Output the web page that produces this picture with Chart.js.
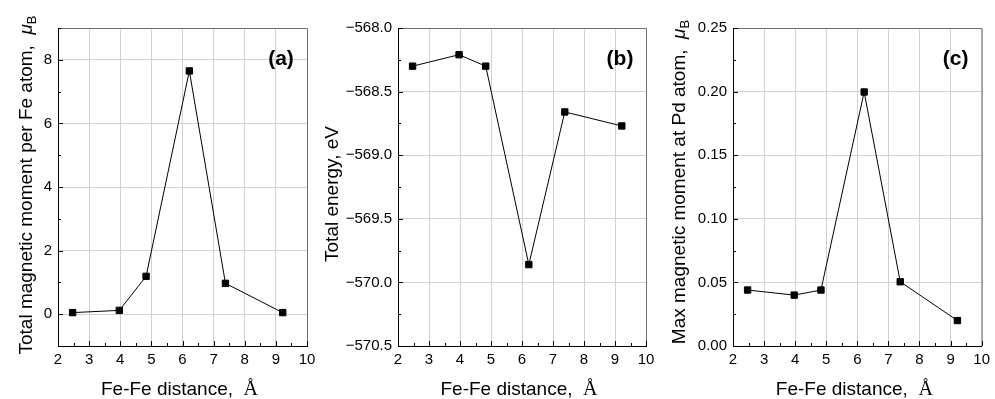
<!DOCTYPE html>
<html>
<head>
<meta charset="utf-8">
<script src="https://cdn.jsdelivr.net/npm/chart.js@4.4.0/dist/chart.umd.min.js"></script>
<style>
    html, body { margin: 0; padding: 0; background: #fff; }
    #wrap { position: relative; width: 995px; height: 399px; }
    #wrap canvas { position: absolute; left: 0; top: 0; }
</style>
</head>
<body>
<div id="wrap">
    <canvas id="chartA" width="995" height="399"></canvas>
    <canvas id="chartB" width="995" height="399"></canvas>
    <canvas id="chartC" width="995" height="399"></canvas>
</div>
<script>
// 数据：Fe-Fe 距离 (Å)
const distances = [2.47, 3.97, 4.83, 6.22, 7.38, 9.22];
// (a) 每个 Fe 原子的总磁矩, μB
const momentPerFe = [0.05, 0.12, 1.19, 7.65, 0.97, 0.05];
// (b) 总能量, eV
const totalEnergy = [-568.30, -568.21, -568.30, -569.86, -568.66, -568.77];
// (c) Pd 原子上的最大磁矩, μB
const maxMomentPd = [0.044, 0.040, 0.044, 0.1997, 0.0505, 0.020];

// 刻度
const xTicks = [2, 3, 4, 5, 6, 7, 8, 9, 10];
const yTicksA = [0, 2, 4, 6, 8];
const yTicksB = [-570.5, -570.0, -569.5, -569.0, -568.5, -568.0];
const yTicksC = [0, 0.05, 0.10, 0.15, 0.20, 0.25];

// 布局常量
const PLOT_TOP = 28;
const PLOT_BOTTOM = 346;
const FONT = '"Liberation Sans", Arial, sans-serif';
const GRID = '#d2d2d2';
const TITLE_SIZE = 19;

const fmtMinus = s => s.replace('-', '\u2212');

const panels = [
    {
        id: 'chartA', values: momentPerFe, yTicks: yTicksA,
        left: 58, right: 307, yMin: -1, yMax: 9, yMinor: 1,
        label: '(a)', yTitle: 'Total magnetic moment per Fe atom,  ', mu: true,
        titleX: 32, titleY: 185,
        fmt: v => String(v)
    },
    {
        id: 'chartB', values: totalEnergy, yTicks: yTicksB,
        left: 398, right: 646, yMin: -570.5, yMax: -568.0, yMinor: 0.25,
        label: '(b)', yTitle: 'Total energy, eV', mu: false,
        titleX: 338, titleY: 194,
        fmt: v => fmtMinus(v.toFixed(1))
    },
    {
        id: 'chartC', values: maxMomentPd, yTicks: yTicksC,
        left: 733, right: 982, yMin: 0, yMax: 0.25, yMinor: 0.025,
        label: '(c)', yTitle: 'Max magnetic moment at Pd atom,  ', mu: true,
        titleX: 685, titleY: 182,
        fmt: v => v.toFixed(2)
    }
];

/**
 * 画竖排的 y 轴标题（可带 μB 下标）
 */
function drawYTitle(ctx, p) {
    ctx.save();
    ctx.translate(p.titleX, p.titleY);
    ctx.rotate(-Math.PI / 2);
    ctx.fillStyle = '#000';
    ctx.textBaseline = 'alphabetic';
    ctx.textAlign = 'left';

    ctx.font = TITLE_SIZE + 'px ' + FONT;
    const wMain = ctx.measureText(p.yTitle).width;
    let wMu = 0, wB = 0;
    if (p.mu) {
        ctx.font = 'italic ' + TITLE_SIZE + 'px ' + FONT;
        wMu = ctx.measureText('\u03bc').width;
        ctx.font = '13px ' + FONT;
        wB = ctx.measureText('B').width;
    }
    let pos = -(wMain + wMu + wB) / 2;
    ctx.font = TITLE_SIZE + 'px ' + FONT;
    ctx.fillText(p.yTitle, pos, 0);
    pos += wMain;
    if (p.mu) {
        ctx.font = 'italic ' + TITLE_SIZE + 'px ' + FONT;
        ctx.fillText('\u03bc', pos, 0);
        pos += wMu;
        ctx.font = '13px ' + FONT;
        ctx.fillText('B', pos, 4);
    }
    ctx.restore();
}

/**
 * 画 x 轴标题，Å 用衬线字体
 */
function drawXTitle(ctx, cx, baseline) {
    const main = 'Fe-Fe distance,  ';
    const serif = (TITLE_SIZE + 1) + 'px "Liberation Serif", "DejaVu Serif", serif';
    ctx.save();
    ctx.fillStyle = '#000';
    ctx.textBaseline = 'alphabetic';
    ctx.textAlign = 'left';
    ctx.font = TITLE_SIZE + 'px ' + FONT;
    const w1 = ctx.measureText(main).width;
    ctx.font = serif;
    const w2 = ctx.measureText('\u00c5').width;
    const start = cx - (w1 + w2) / 2;
    ctx.font = TITLE_SIZE + 'px ' + FONT;
    ctx.fillText(main, start, baseline);
    ctx.font = serif;
    ctx.fillText('\u00c5', start + w1, baseline);
    ctx.restore();
}

// 边框、内向刻度、标题
function makeFramePlugin(p) {
    return {
        id: 'frame_' + p.id,
        afterDraw(chart) {
            const { ctx, chartArea: a, scales: { x, y } } = chart;
            ctx.save();

            // 上、右边框（灰色）
            ctx.strokeStyle = '#707070';
            ctx.lineWidth = 1;
            ctx.beginPath();
            ctx.moveTo(a.left, a.top + 0.5);
            ctx.lineTo(a.right + 0.5, a.top + 0.5);
            ctx.lineTo(a.right + 0.5, a.bottom);
            ctx.stroke();

            // 内向刻度
            ctx.strokeStyle = '#000';
            ctx.beginPath();
            for (let i = 0; i <= 16; i++) {
                const v = 2 + i * 0.5;
                const px = Math.round(x.getPixelForValue(v)) + 0.5;
                const len = i % 2 === 0 ? 5 : 3;
                ctx.moveTo(px, a.bottom);
                ctx.lineTo(px, a.bottom - len);
            }
            const n = Math.round((p.yMax - p.yMin) / p.yMinor);
            for (let i = 0; i <= n; i++) {
                const v = p.yMin + i * p.yMinor;
                const major = p.yTicks.some(t => Math.abs(t - v) < p.yMinor / 10);
                const py = Math.round(y.getPixelForValue(v)) + 0.5;
                ctx.moveTo(a.left, py);
                ctx.lineTo(a.left + (major ? 5 : 3), py);
            }
            ctx.stroke();

            // 面板标签
            ctx.fillStyle = '#000';
            ctx.font = 'bold 21px ' + FONT;
            ctx.textAlign = 'center';
            ctx.textBaseline = 'alphabetic';
            ctx.fillText(p.label, a.right - 26, 65);
            ctx.restore();

            drawYTitle(ctx, p);
            drawXTitle(ctx, (a.left + a.right) / 2 - 3, 395);
        }
    };
}

function makeChart(p) {
    const ctx = document.getElementById(p.id).getContext('2d');
    return new Chart(ctx, {
        type: 'line',
        data: {
            datasets: [{
                data: distances.map((d, i) => ({ x: d, y: p.values[i] })),
                borderColor: '#000',
                backgroundColor: '#000',
                borderWidth: 1,
                pointStyle: 'rect',
                pointRadius: 4.5,
                pointBorderWidth: 1,
                pointBorderColor: '#000',
                pointBackgroundColor: '#000',
                tension: 0,
                clip: false
            }]
        },
        options: {
            responsive: false,
            animation: false,
            events: [],
            layout: { padding: { left: 0, top: PLOT_TOP, right: 995 - p.right, bottom: 0 } },
            plugins: {
                legend: { display: false },
                tooltip: { enabled: false }
            },
            scales: {
                x: {
                    type: 'linear',
                    min: 2,
                    max: 10,
                    afterBuildTicks: s => { s.ticks = xTicks.map(v => ({ value: v })); },
                    afterFit: s => { s.height = 399 - PLOT_BOTTOM; },
                    grid: { color: GRID, drawTicks: false },
                    border: { color: '#000', width: 1 },
                    ticks: {
                        autoSkip: false, maxRotation: 0, padding: 5,
                        color: '#000', font: { family: FONT, size: 15 },
                        callback: v => String(v)
                    }
                },
                y: {
                    type: 'linear',
                    min: p.yMin,
                    max: p.yMax,
                    afterBuildTicks: s => { s.ticks = p.yTicks.map(v => ({ value: v })); },
                    afterFit: s => { s.width = p.left; },
                    grid: { color: GRID, drawTicks: false },
                    border: { color: '#000', width: 1 },
                    ticks: {
                        autoSkip: false, padding: 6,
                        color: '#000', font: { family: FONT, size: 15 },
                        callback: v => p.fmt(v)
                    }
                }
            }
        },
        plugins: [makeFramePlugin(p)]
    });
}

panels.forEach(makeChart);
</script>
</body>
</html>
